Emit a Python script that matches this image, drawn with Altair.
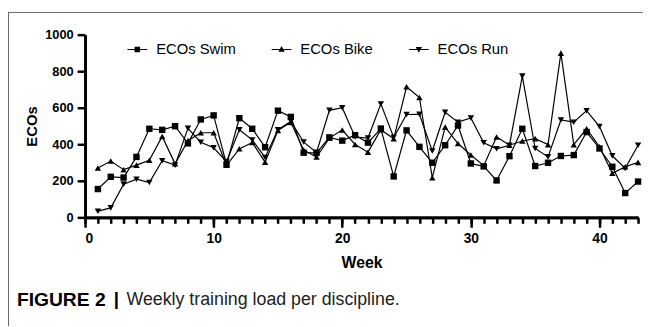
import altair as alt
import pandas as pd

weeks = list(range(1, 44))
swim = [155, 222, 218, 331, 485, 479, 499, 405, 536, 558, 290, 543, 485, 384, 584,
        550, 354, 353, 438, 420, 450, 409, 486, 224, 476, 386, 299, 395, 503, 295,
        279, 202, 335, 485, 281, 299, 336, 341, 467, 377, 277, 133, 196]
bike = [270, 308, 261, 286, 313, 443, 293, 420, 463, 463, 285, 375, 410, 302, 475,
        520, 368, 330, 434, 478, 399, 357, 480, 430, 715, 656, 217, 494, 404, 341,
        283, 440, 395, 418, 431, 398, 899, 398, 485, 386, 241, 277, 301]
run = [34, 52, 182, 209, 191, 310, 286, 487, 411, 381, 305, 480, 424, 328, 480,
       526, 412, 355, 586, 600, 440, 434, 621, 438, 563, 564, 363, 575, 521, 544,
       408, 375, 395, 773, 377, 331, 533, 521, 584, 497, 337, 268, 395]
series_names = ["ECOs Swim", "ECOs Bike", "ECOs Run"]
marker_shapes = ["square", "triangle-up", "triangle-down"]
LINE = "M-1,-0.06H1V0.06H-1Z"
legend_paths = [
    LINE + "M-0.28,-0.28H0.28V0.28H-0.28Z",
    LINE + "M0,-0.34L0.32,0.24L-0.32,0.24Z",
    LINE + "M0,0.34L-0.32,-0.24L0.32,-0.24Z",
]
x_major = [0, 10, 20, 30, 40]
y_ticks = [0, 200, 400, 600, 800, 1000]

rows = []
for name, vals in zip(series_names, [swim, bike, run]):
    for w, v in zip(weeks, vals):
        rows.append({"week": w, "value": v, "series": name})
df = pd.DataFrame(rows)

FONT = "Liberation Sans"
W, H = 560, 185
PL, PT = 78, 25

x_scale = alt.Scale(domain=[0, 43], nice=False, zero=False)
y_scale = alt.Scale(domain=[0, 1000], nice=False)
y_axis = alt.Axis(values=y_ticks, tickSize=8, title="ECOs", labelFontSize=13,
                  titleFontSize=15, titlePadding=5, labelPadding=4,
                  labelOverlap=False, format="d")

base = alt.Chart(df)

lines = base.mark_line(color="black", strokeWidth=1.2).encode(
    x=alt.X("week:Q", scale=x_scale,
            axis=alt.Axis(values=x_major, tickSize=10, title="Week", orient="bottom",
                          labelFontSize=14, titleFontSize=16, titlePadding=10,
                          labelPadding=4, format="d")),
    y=alt.Y("value:Q", scale=y_scale, axis=y_axis),
    detail="series:N",
)

points = base.mark_point(filled=True, color="black", size=42, opacity=1).encode(
    x=alt.X("week:Q", scale=x_scale,
            axis=alt.Axis(values=weeks + [0], tickSize=6, labels=False, title=None,
                          orient="bottom")),
    y=alt.Y("value:Q", scale=y_scale, axis=y_axis),
    shape=alt.Shape("series:N", scale=alt.Scale(domain=series_names, range=marker_shapes),
                    legend=None),
)

legend_layer = base.transform_filter("false").mark_point(
    filled=True, color="black", opacity=1
).encode(
    shape=alt.Shape("series:N", scale=alt.Scale(domain=series_names, range=legend_paths),
                    legend=alt.Legend(title=None, orient="none", legendX=42, legendY=4,
                                      direction="horizontal", symbolSize=400,
                                      symbolFillColor="black", symbolOpacity=1,
                                      labelFont=FONT, labelFontSize=15, labelColor="black",
                                      labelOffset=8, columnPadding=33, gridAlign="none",
                                      padding=0)),
)

one = pd.DataFrame({"k": [0]})
frame_left = alt.Chart(one).mark_rule(color="#666666", strokeWidth=1).encode(
    x=alt.value(-PL + 0.5), y=alt.value(-PT + 2), y2=alt.value(H + 120))
frame_top = alt.Chart(one).mark_rule(color="#666666", strokeWidth=1).encode(
    x=alt.value(-PL + 0.5), x2=alt.value(W + 20), y=alt.value(-PT + 2.5))

cap_bold = alt.Chart(one).mark_text(
    text="FIGURE 2", font=FONT, fontWeight="bold", fontSize=19.5, align="left",
    baseline="middle", color="black").encode(x=alt.value(17 - 86), y=alt.value(302 - 33))
cap_bar = alt.Chart(one).mark_text(
    text="|", font=FONT, fontWeight="bold", fontSize=19, align="left",
    baseline="middle", color="black").encode(x=alt.value(115 - 86), y=alt.value(301 - 33))
cap_text = alt.Chart(one).mark_text(
    text="Weekly training load per discipline.", font=FONT, fontSize=18, align="left",
    baseline="middle", color="#222222").encode(x=alt.value(128 - 86), y=alt.value(302 - 33))

chart = alt.layer(
    frame_left, frame_top, lines, points, legend_layer, cap_bold, cap_bar, cap_text
).resolve_scale(shape="independent").resolve_axis(x="independent").properties(
    width=W, height=H, autosize=alt.AutoSizeParams(type="none"),
    padding={"left": PL, "top": PT, "right": 5, "bottom": 108},
).configure_view(stroke=None).configure_axis(
    grid=False, domainColor="black", domainWidth=3, tickColor="black", tickWidth=2.5,
    labelFont=FONT, labelFontWeight="bold", labelColor="black",
    titleFont=FONT, titleFontWeight="bold", titleColor="black",
)

chart.save("out.html", embed_options={"renderer": "svg", "actions": False})
